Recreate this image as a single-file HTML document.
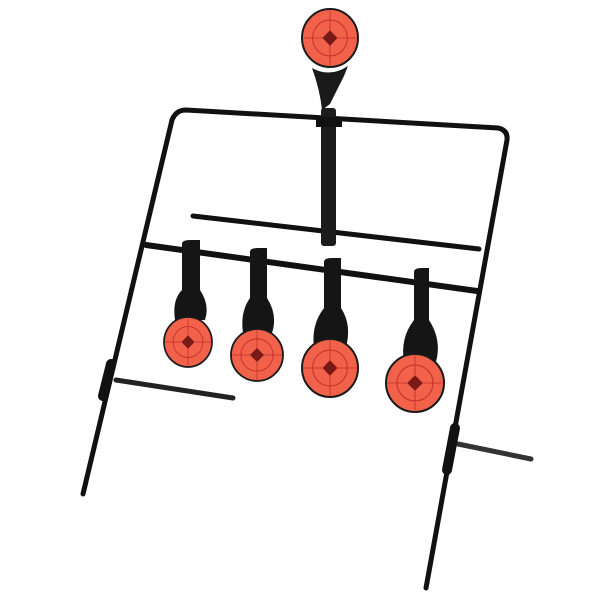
<!DOCTYPE html>
<html><head><meta charset="utf-8"><style>html,body{margin:0;padding:0;background:#fff}svg{display:block}</style></head>
<body>
<svg width="600" height="600" viewBox="0 0 600 600" xmlns="http://www.w3.org/2000/svg">
<defs>
<g id="tg">
  <circle r="1" fill="#f2614a" stroke="#1a1a1a" stroke-width="0.07"/>
  <circle r="0.62" fill="none" stroke="#c0302a" stroke-width="0.035"/>
  <line x1="-0.95" y1="0" x2="0.95" y2="0" stroke="#c0302a" stroke-width="0.03"/>
  <line x1="0" y1="-0.95" x2="0" y2="0.95" stroke="#c0302a" stroke-width="0.03"/>
  <rect x="-0.19" y="-0.19" width="0.38" height="0.38" fill="#7a1a18" transform="rotate(45)"/>
</g>
</defs>
<g stroke="#111" stroke-linecap="round" fill="none">
  <!-- frame -->
  <path d="M83 494 L172 120 Q176 110 186 110 L498 128 Q508 130 507 140 L426 588" stroke-width="5"/>
  <!-- upper short rod -->
  <line x1="193" y1="216" x2="479" y2="249" stroke-width="5"/>
  <!-- lower rod -->
  <line x1="146" y1="245" x2="477" y2="291" stroke-width="6"/>
  <!-- feet -->
  <line x1="116" y1="380" x2="233" y2="398" stroke-width="5" stroke="#222"/>
  <line x1="458" y1="444" x2="531" y2="459" stroke-width="5" stroke="#333"/>
  <line x1="111" y1="364" x2="103" y2="396" stroke-width="10"/>
  <line x1="455" y1="428" x2="447" y2="470" stroke-width="10"/>
</g>
<!-- central paddle -->
<path d="M312 68 Q330 78 348 66 L344 76 Q336 92 330 104 L322 110 Q320 90 312 68Z" fill="#1a1a1a"/>
<rect x="321" y="108" width="15" height="138" rx="3" fill="#1c1c1c"/>
<rect x="316" y="117" width="26" height="10" fill="#111"/>
<!-- top target -->
<g transform="translate(330,38) scale(28,29)"><use href="#tg"/></g>
<!-- small paddles -->
<g fill="#151515">
  <path d="M182 244 Q182 240 190 240 L200 240 L200 290 Q210 305 205 320 L175 320 Q172 300 182 290Z"/>
  <path d="M250 252 Q250 248 258 248 L267 248 L267 298 Q278 315 272 333 L243 333 Q240 312 250 298Z"/>
  <path d="M324 262 Q324 258 332 258 L341 258 L341 308 Q352 325 346 347 L314 347 Q311 325 324 308Z"/>
  <path d="M414 272 Q414 268 422 268 L429 268 L429 320 Q442 340 436 362 L404 362 Q400 338 414 320Z"/>
</g>
<g transform="translate(188,342) scale(24,25)"><use href="#tg"/></g>
<g transform="translate(257,355) scale(26,26)"><use href="#tg"/></g>
<g transform="translate(330,368) scale(28,29)"><use href="#tg"/></g>
<g transform="translate(415,383) scale(29,29)"><use href="#tg"/></g>
</svg>
</body></html>
